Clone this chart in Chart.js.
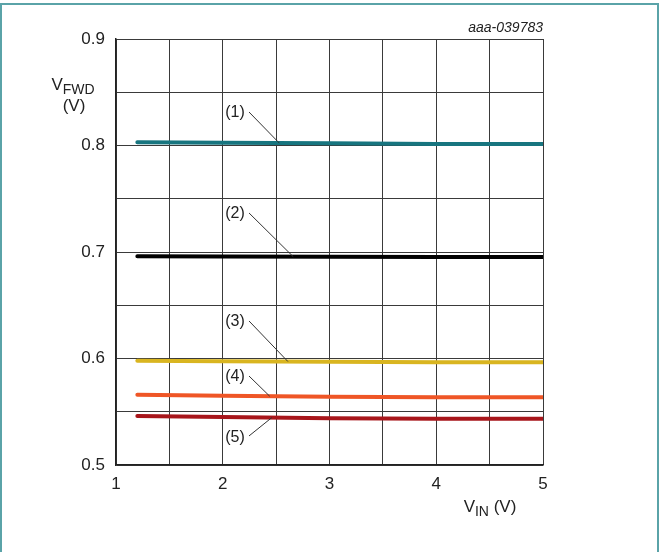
<!DOCTYPE html>
<html lang="en">
<head>
<meta charset="UTF-8">
<title>VFWD vs VIN</title>
<script src="https://cdn.jsdelivr.net/npm/chart.js"></script>
<style>
  body { margin: 0; background: #fff; }
  .moldura { position: absolute; left: 0; top: 3px; width: 655px; height: 560px; border: 2px solid #5aa3a8; border-bottom: none; }
  .caixa { position: absolute; left: 0; top: 0; width: 660px; height: 552px; }
</style>
</head>
<body>
<div class="moldura"></div>
<div class="caixa"><canvas id="grafico" width="660" height="552"></canvas></div>

<script>
// dados
const vin = [1.2, 2, 3, 4, 5];
const curva1 = [0.803, 0.8025, 0.802, 0.8015, 0.8015];
const curva2 = [0.696, 0.6958, 0.6955, 0.6953, 0.6953];
const curva3 = [0.598, 0.5975, 0.597, 0.5965, 0.5965];
const curva4 = [0.566, 0.565, 0.564, 0.5635, 0.5635];
const curva5 = [0.546, 0.545, 0.544, 0.5435, 0.5435];
const rotulos = ['(1)', '(2)', '(3)', '(4)', '(5)'];
const xTickLabels = ['1', '2', '3', '4', '5'];
const yTickLabels = ['0.5', '0.6', '0.7', '0.8', '0.9'];

const cores = ['#17757f', '#000000', '#d9b520', '#ef5626', '#a8161b'];
const curvas = [curva1, curva2, curva3, curva4, curva5];

// posicao dos rotulos (x,y em valores do grafico) e ponta da seta (x)
const rotuloX = [2.115, 2.115, 2.115, 2.115, 2.115];
const rotuloY = [0.8305, 0.7357, 0.6343, 0.5826, 0.5254];
const setaX = [2.53, 2.66, 2.61, 2.44, 2.46];

const fonte = "'Liberation Sans', Arial, sans-serif";

function interp(xs, ys, x) {
    for (let i = 0; i < xs.length - 1; i++) {
        if (x >= xs[i] && x <= xs[i + 1]) {
            const t = (x - xs[i]) / (xs[i + 1] - xs[i]);
            return ys[i] + t * (ys[i + 1] - ys[i]);
        }
    }
    return ys[ys.length - 1];
}

function textoSub(ctx, principal, sub, cx, base, tam, tamSub) {
    ctx.font = tam + 'px ' + fonte;
    const w1 = ctx.measureText(principal).width;
    ctx.font = tamSub + 'px ' + fonte;
    const w2 = ctx.measureText(sub).width;
    const x0 = cx - (w1 + w2) / 2;
    ctx.textAlign = 'left';
    ctx.textBaseline = 'alphabetic';
    ctx.font = tam + 'px ' + fonte;
    ctx.fillText(principal, x0, base);
    ctx.font = tamSub + 'px ' + fonte;
    ctx.fillText(sub, x0 + w1, base + 4);
    return x0 + w1 + w2;
}

const extras = {
    id: 'extras',
    afterDraw(chart) {
        const ctx = chart.ctx;
        const sx = chart.scales.x;
        const sy = chart.scales.y;
        ctx.save();
        ctx.fillStyle = '#222';

        // titulo eixo y
        textoSub(ctx, 'V', 'FWD', 73, 90, 17, 14);
        ctx.font = '17px ' + fonte;
        ctx.textAlign = 'center';
        ctx.fillText('(V)', 74, 111);

        // titulo eixo x
        ctx.font = '17px ' + fonte;
        const wPar = ctx.measureText(' (V)').width;
        const fim = textoSub(ctx, 'V', 'IN', 490 - wPar / 2, 512, 17, 14);
        ctx.font = '17px ' + fonte;
        ctx.textAlign = 'left';
        ctx.fillText(' (V)', fim, 512);

        // codigo da figura
        ctx.font = 'italic 14px ' + fonte;
        ctx.textAlign = 'right';
        ctx.fillText('aaa-039783', sx.right, 32);

        // rotulos das curvas com seta
        ctx.font = '16px ' + fonte;
        ctx.textAlign = 'center';
        ctx.textBaseline = 'middle';
        ctx.strokeStyle = '#333';
        ctx.lineWidth = 1;
        for (let i = 0; i < rotulos.length; i++) {
            const lx = sx.getPixelForValue(rotuloX[i]);
            const ly = sy.getPixelForValue(rotuloY[i]);
            ctx.fillText(rotulos[i], lx, ly);
            const px = sx.getPixelForValue(setaX[i]);
            const py = sy.getPixelForValue(interp(vin, curvas[i], setaX[i]));
            ctx.beginPath();
            ctx.moveTo(lx + 14, py > ly ? ly - 1 : ly - 2);
            ctx.lineTo(px, py);
            ctx.stroke();
        }
        ctx.restore();
    }
};

const datasets = curvas.map(function (c, i) {
    return {
        label: rotulos[i],
        data: vin.map(function (x, j) { return { x: x, y: c[j] }; }),
        borderColor: cores[i],
        borderWidth: 4,
        pointRadius: 0,
        tension: 0,
        borderCapStyle: 'round',
        fill: false
    };
});

new Chart(document.getElementById('grafico'), {
    type: 'line',
    data: { datasets: datasets },
    options: {
        responsive: false,
        animation: false,
        devicePixelRatio: 1,
        layout: { padding: { top: 39, right: 117, left: 0, bottom: 0 } },
        plugins: { legend: { display: false }, tooltip: { enabled: false } },
        scales: {
            x: {
                type: 'linear', min: 1, max: 5,
                ticks: {
                    stepSize: 0.5, autoSkip: false, maxRotation: 0, padding: 9,
                    color: '#222', font: { family: fonte, size: 17 },
                    callback: function (v) {
                        const s = String(Math.round(v * 10) / 10);
                        return xTickLabels.includes(s) ? s : '';
                    }
                },
                grid: { color: '#3a3a3a', lineWidth: 1, drawTicks: false },
                border: { color: '#222', width: 1.5 },
                afterFit: function (scale) { scale.height = 87; }
            },
            y: {
                min: 0.5, max: 0.9,
                ticks: {
                    stepSize: 0.05, autoSkip: false, padding: 11,
                    color: '#222', font: { family: fonte, size: 17 },
                    callback: function (v) {
                        const s = (Math.round(v * 100) / 100).toFixed(2);
                        const t = s.slice(0, 3);
                        return (s.endsWith('0') && yTickLabels.includes(t)) ? t : '';
                    }
                },
                grid: { color: '#3a3a3a', lineWidth: 1, drawTicks: false },
                border: { color: '#222', width: 1.5 },
                afterFit: function (scale) { scale.width = 116; }
            }
        }
    },
    plugins: [extras]
});
</script>
</body>
</html>
